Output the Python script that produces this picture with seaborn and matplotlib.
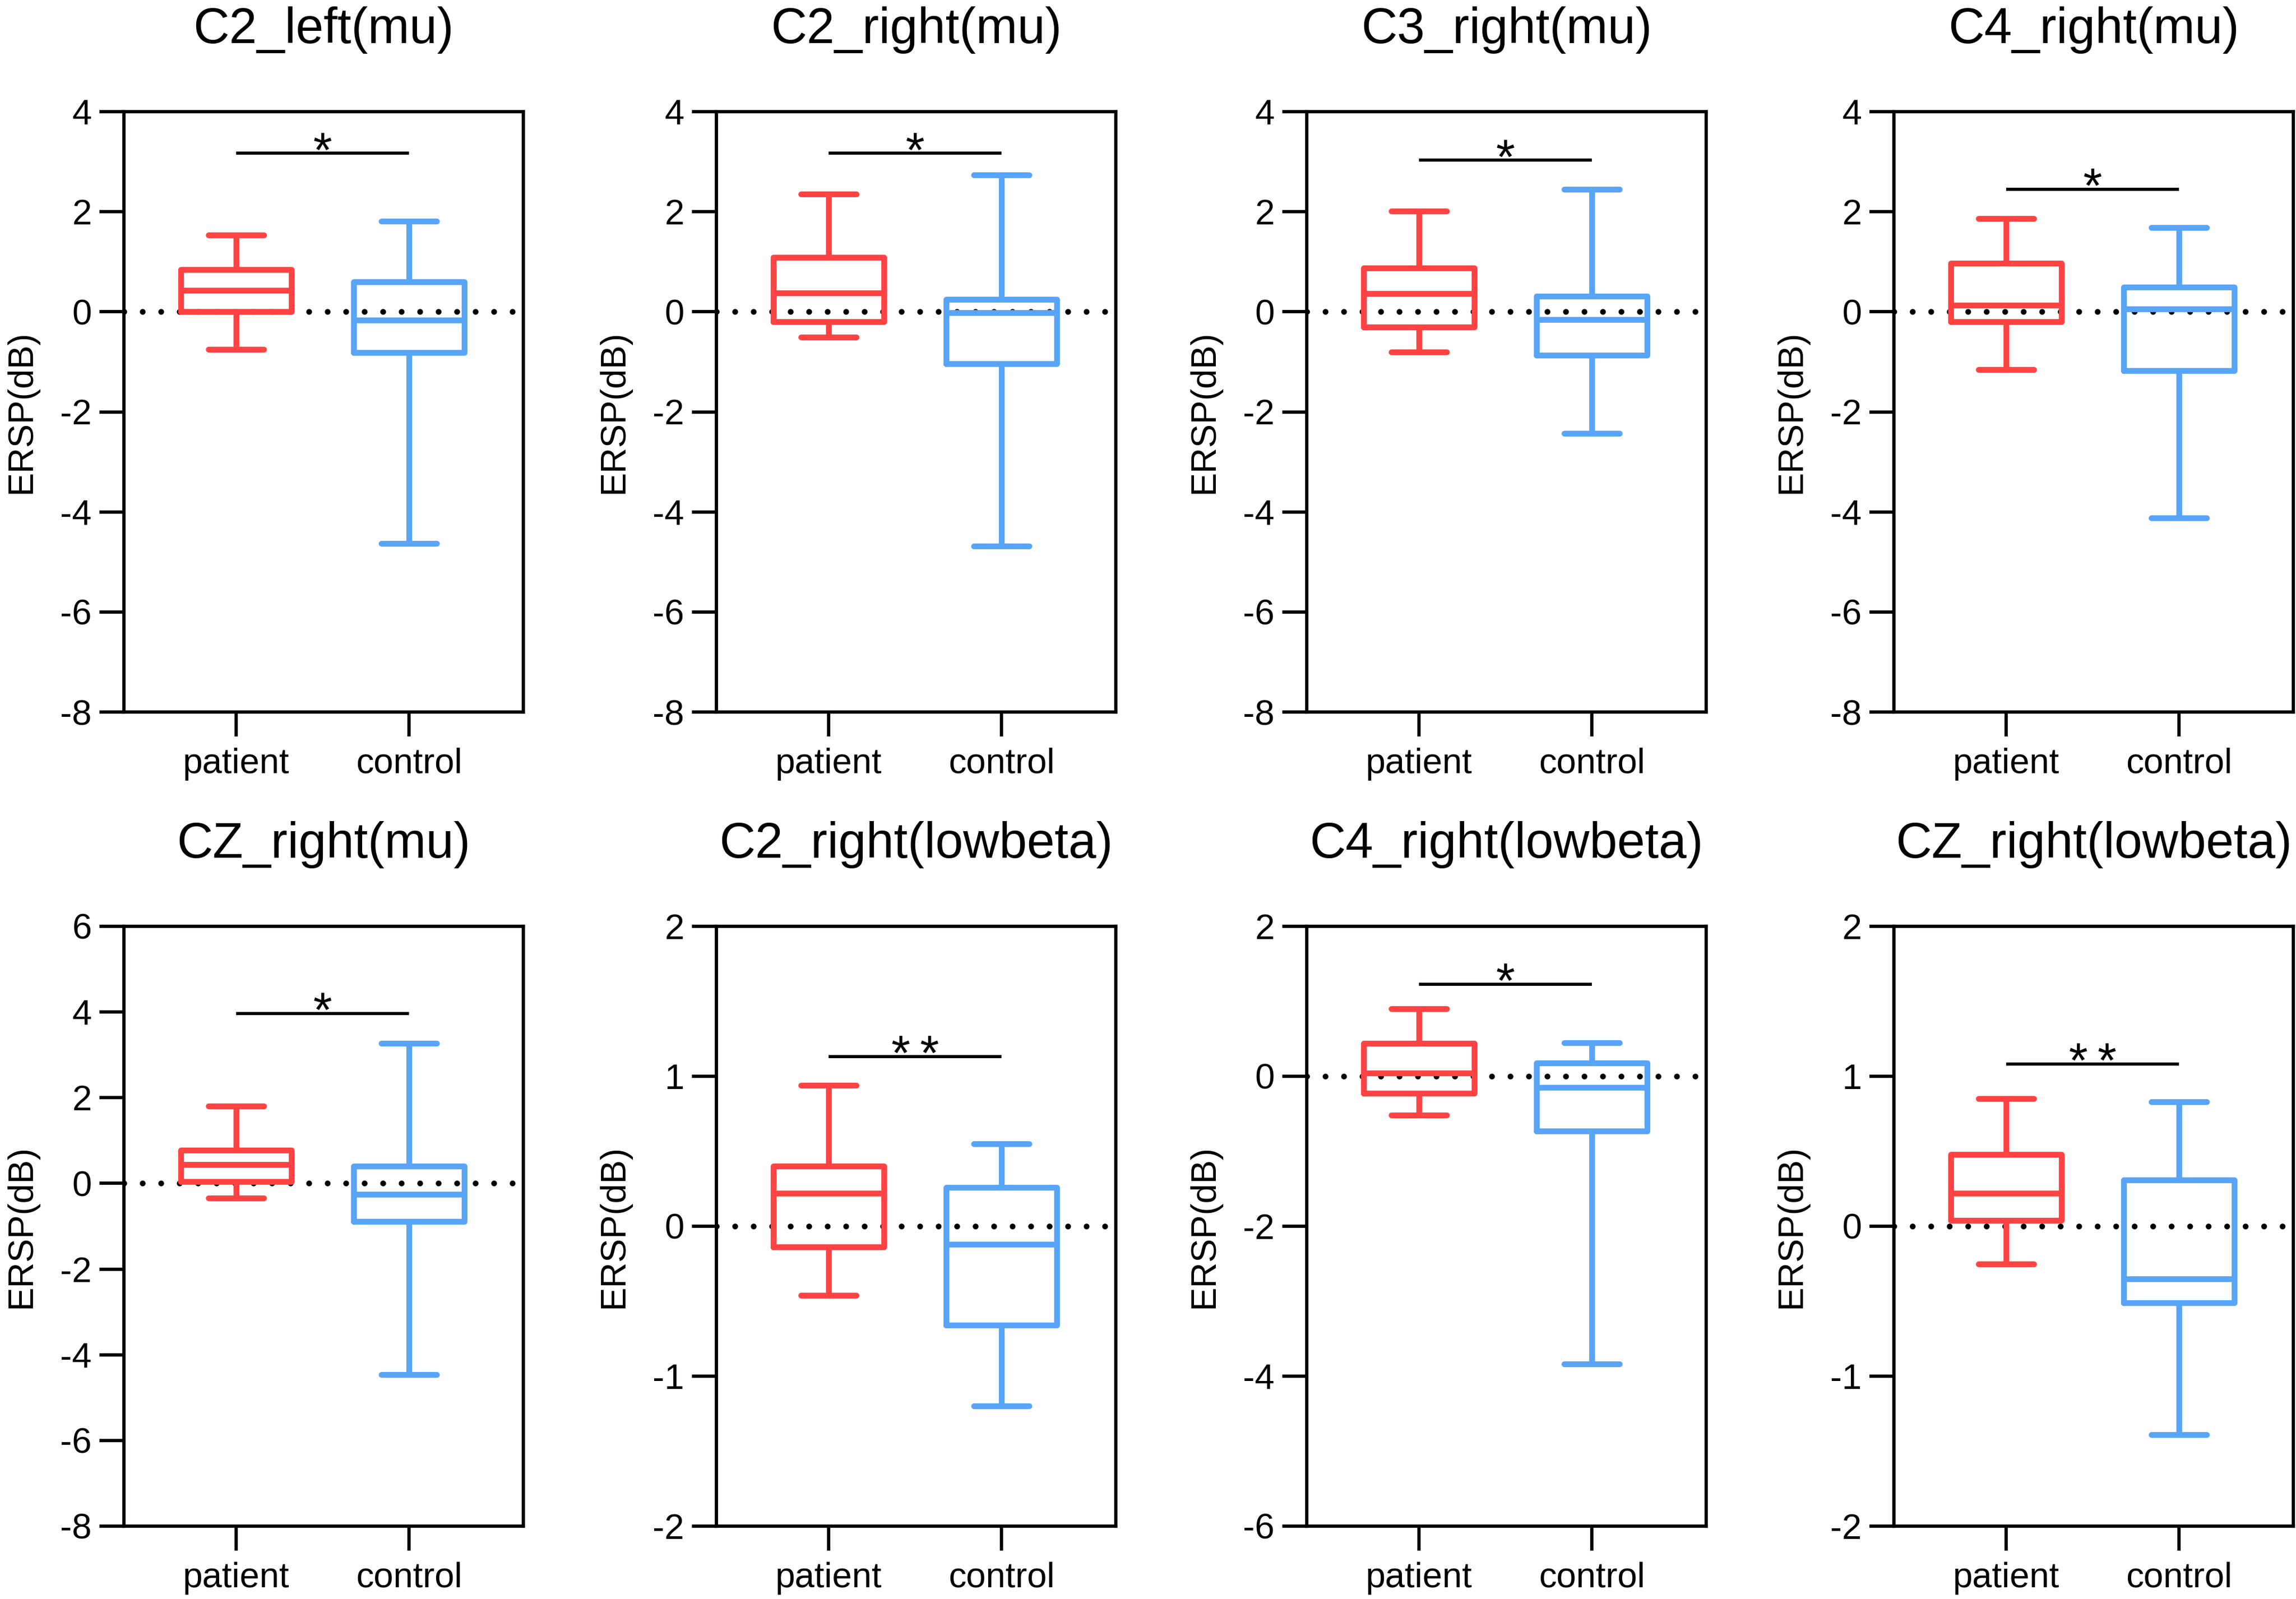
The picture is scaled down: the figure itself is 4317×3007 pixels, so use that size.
import numpy as np
import pandas as pd
import matplotlib
matplotlib.use("Agg")
import matplotlib.pyplot as plt
import seaborn as sns

# ---------------- data ----------------
titles = ["C2_left(mu)", "C2_right(mu)", "C3_right(mu)", "C4_right(mu)",
          "CZ_right(mu)", "C2_right(lowbeta)", "C4_right(lowbeta)", "CZ_right(lowbeta)"]
groups = ["patient", "control"]

# five-number summaries: [min, Q1, median, Q3, max]
patient_summary = [
    [-0.75, 0.00, 0.43, 0.84, 1.53],
    [-0.51, -0.20, 0.38, 1.09, 2.35],
    [-0.80, -0.31, 0.36, 0.88, 2.01],
    [-1.15, -0.20, 0.13, 0.97, 1.86],
    [-0.34, 0.04, 0.44, 0.78, 1.81],
    [-0.46, -0.14, 0.22, 0.40, 0.94],
    [-0.52, -0.23, 0.04, 0.44, 0.90],
    [-0.25, 0.04, 0.22, 0.48, 0.85],
]
control_summary = [
    [-4.63, -0.82, -0.17, 0.60, 1.81],
    [-4.68, -1.04, -0.02, 0.25, 2.74],
    [-2.43, -0.87, -0.16, 0.31, 2.45],
    [-4.12, -1.18, 0.06, 0.49, 1.68],
    [-4.46, -0.89, -0.25, 0.40, 3.27],
    [-1.20, -0.66, -0.12, 0.26, 0.55],
    [-3.84, -0.73, -0.15, 0.18, 0.45],
    [-1.39, -0.51, -0.35, 0.31, 0.83],
]
sig_labels = ["*", "*", "*", "*", "*", "*\u2009*", "*", "*\u2009*"]
sig_levels = [3.17, 3.17, 3.03, 2.45, 3.97, 1.13, 1.23, 1.08]
y_ranges = [(-8, 4), (-8, 4), (-8, 4), (-8, 4), (-8, 6), (-2, 2), (-6, 2), (-2, 2)]
y_steps = [2, 2, 2, 2, 2, 1, 2, 1]
y_label = "ERSP(dB)"

# ---------------- style ----------------
sns.set_style("ticks")
plt.rcParams["font.family"] = ["Liberation Sans", "DejaVu Sans"]
plt.rcParams["axes.linewidth"] = 1.5
plt.rcParams["text.color"] = "black"
plt.rcParams["axes.labelcolor"] = "black"
plt.rcParams["xtick.color"] = "black"
plt.rcParams["ytick.color"] = "black"

colors = {"patient": "#FF4343", "control": "#58A4F6"}

W, H = 4317, 3007
dpi = 300
fig = plt.figure(figsize=(W / dpi, H / dpi), dpi=dpi)

lefts = [233, 1347, 2457, 3561]
ax_w = 751
rows = [(210, 1339), (1742, 2870)]

for i, title in enumerate(titles):
    r, c = divmod(i, 4)
    top, bottom = rows[r]
    ax = fig.add_axes([lefts[c] / W, 1 - bottom / H, ax_w / W, (bottom - top) / H])

    df = pd.DataFrame({
        "group": ["patient"] * 5 + ["control"] * 5,
        "value": list(patient_summary[i]) + list(control_summary[i]),
    })
    ax.axhline(0, color="black", lw=2.6, linestyle=(0, (0.01, 3.2)),
               dash_capstyle="round", zorder=1)
    sns.boxplot(data=df, x="group", y="value", hue="group", order=groups,
                hue_order=groups, palette=colors, fill=False, whis=(0, 100),
                width=0.64, linewidth=2.6, showfliers=False, legend=False,
                ax=ax, zorder=2)

    lo, hi = y_ranges[i]
    ticks = np.arange(lo, hi + 0.001, y_steps[i])
    ax.set_ylim(lo, hi)
    ax.set_yticks(ticks)
    ax.set_yticklabels([f"{int(t)}" for t in ticks])
    ax.set_xlim(-0.65, 1.66)

    # significance bar
    ax.plot([0, 1], [sig_levels[i]] * 2, color="black", lw=1.4, solid_capstyle="butt")
    ax.annotate(sig_labels[i], xy=(0.5, sig_levels[i]), xytext=(0, -6),
                textcoords="offset points", ha="center", va="baseline", fontsize=22)

    for sp in ax.spines.values():
        sp.set_visible(True)
        sp.set_linewidth(1.5)
        sp.set_color("black")
    ax.tick_params(axis="y", direction="out", length=11, width=1.5, labelsize=16, pad=3.5)
    ax.tick_params(axis="x", direction="out", length=11, width=1.5, labelsize=16, pad=5)
    ax.tick_params(top=False, right=False)
    ax.set_xlabel("")
    ax.set_ylabel(y_label, fontsize=16, labelpad=10)
    ax.set_title(title, fontsize=22.5, pad=31)

fig.savefig("out.png", dpi=dpi)
